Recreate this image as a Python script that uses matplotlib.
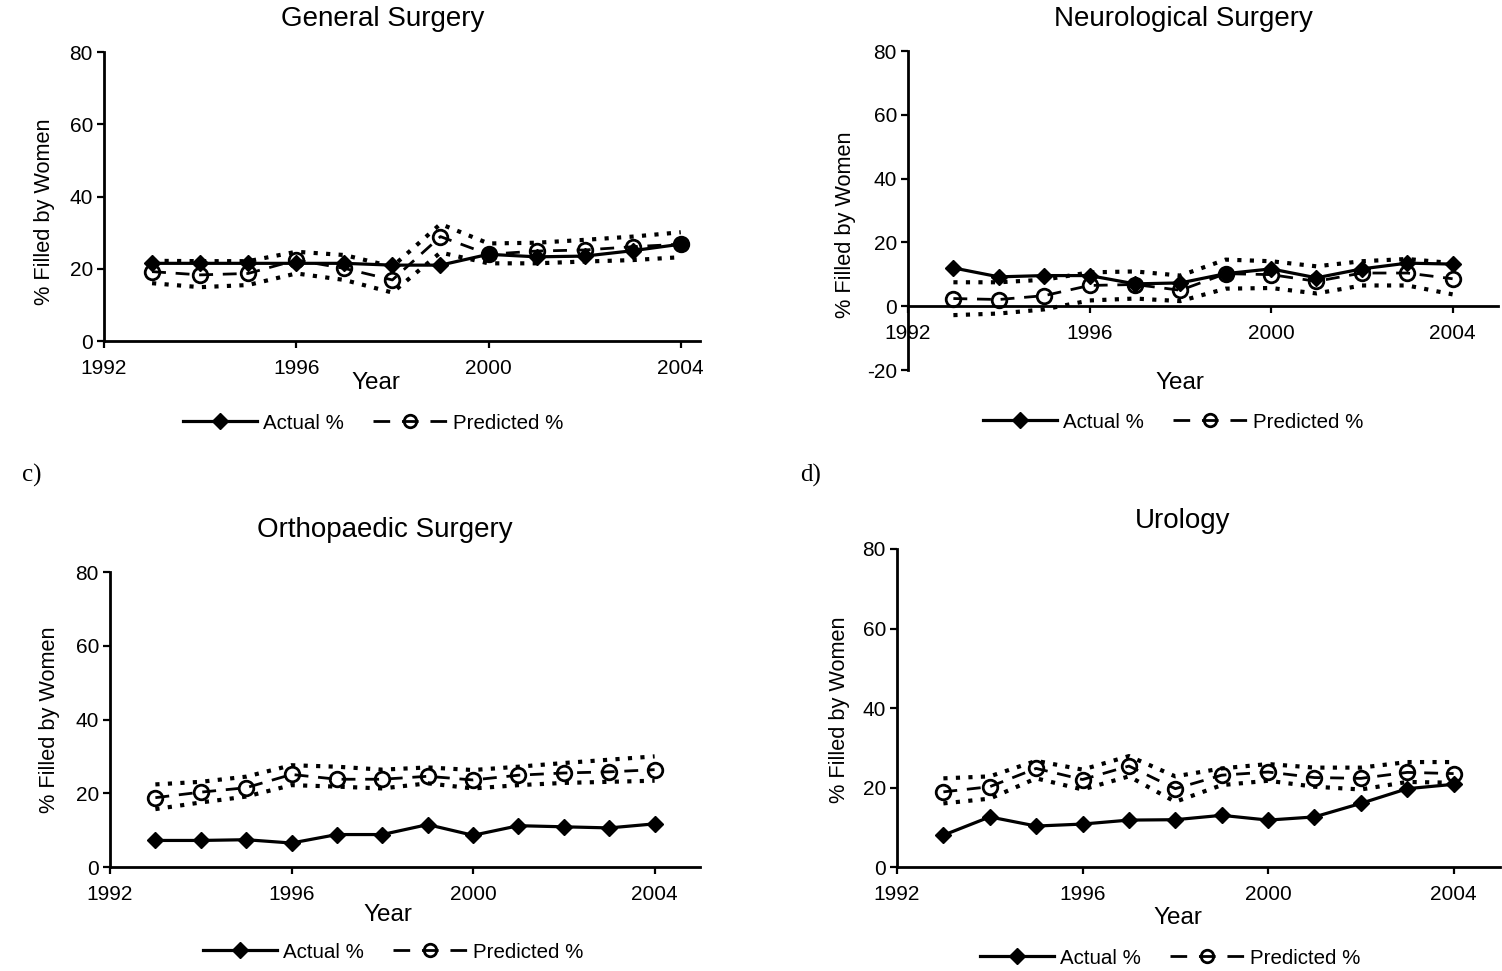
#!/usr/bin/env python3
"""
Four-panel chart: % of residency positions filled by women,
actual vs predicted with prediction bounds, 1993-2004.
"""

import matplotlib
matplotlib.use("Agg")
import matplotlib.pyplot as plt
from matplotlib.lines import Line2D

plt.rcParams["font.family"] = ["Liberation Sans", "DejaVu Sans"]
plt.rcParams["axes.unicode_minus"] = False

years = [1993, 1994, 1995, 1996, 1997, 1998, 1999, 2000, 2001, 2002, 2003, 2004]

# General Surgery
gen_actual = [21.5, 21.5, 21.5, 21.5, 21.5, 21.0, 21.0, 24.0, 23.3, 23.5, 25.0, 26.8]
gen_pred = [19.2, 18.3, 18.7, 22.4, 20.1, 16.9, 28.9, 24.0, 24.9, 25.2, 26.1, 26.8]
gen_upper = [22.2, 22.1, 22.1, 24.7, 23.8, 20.6, 32.4, 27.0, 27.2, 28.0, 28.9, 30.1]
gen_lower = [16.0, 14.9, 15.5, 18.7, 16.9, 13.4, 24.5, 21.5, 21.5, 22.0, 22.4, 23.2]

# Neurological Surgery
neuro_actual = [12.0, 9.2, 9.6, 9.6, 7.0, 7.3, 10.2, 11.7, 8.9, 11.7, 13.5, 13.2]
neuro_pred = [2.4, 2.1, 3.3, 6.5, 6.8, 5.0, 10.2, 9.9, 7.8, 10.4, 10.4, 8.6]
neuro_upper = [7.5, 7.5, 8.3, 10.6, 10.9, 9.6, 14.6, 14.1, 12.5, 14.1, 14.8, 13.5]
neuro_lower = [-2.8, -2.3, -1.0, 1.8, 2.4, 1.6, 5.5, 5.7, 4.0, 6.5, 6.5, 3.7]

# Orthopaedic Surgery
ortho_actual = [7.2, 7.2, 7.4, 6.5, 8.8, 8.8, 11.5, 8.6, 11.2, 10.9, 10.6, 11.7]
ortho_pred = [18.8, 20.3, 21.5, 25.1, 23.8, 23.8, 24.6, 23.6, 24.9, 25.5, 25.8, 26.4]
ortho_upper = [22.4, 23.1, 24.5, 27.6, 27.2, 26.4, 27.0, 26.3, 27.2, 28.2, 29.1, 30.0]
ortho_lower = [15.7, 17.5, 19.1, 22.2, 21.8, 21.3, 22.7, 21.3, 22.2, 22.8, 23.1, 23.4]

# Urology
uro_actual = [8.0, 12.6, 10.3, 10.8, 11.8, 11.9, 13.0, 11.8, 12.6, 16.0, 19.7, 20.8]
uro_pred = [18.9, 20.2, 24.8, 22.0, 25.4, 19.7, 23.1, 23.9, 22.5, 22.3, 23.8, 23.5]
uro_upper = [22.3, 22.8, 26.7, 24.5, 27.9, 22.8, 24.8, 25.9, 25.0, 25.0, 26.4, 26.4]
uro_lower = [16.0, 17.2, 22.3, 19.5, 22.8, 16.4, 20.6, 21.7, 20.2, 19.5, 21.4, 21.2]

x_ticks = [1992, 1996, 2000, 2004]

W, H = 1502, 971


def fx(px):
    return px / W


def fy(py):
    return 1 - py / H


def draw_panel(fig, rect_px, xmax, ylim, yticks, actual, pred, upper, lower,
               title, title_xy, year_xy, ylabel_xy, legend_xy, zero_axis=False):
    left, top, right, bottom = rect_px
    ax = fig.add_axes([fx(left), fy(bottom), (right - left) / W, (bottom - top) / H])

    ax.plot(years, upper, color="black", lw=3.0, dashes=(1.0, 2.0), dash_capstyle="butt")
    ax.plot(years, lower, color="black", lw=3.0, dashes=(1.0, 2.0), dash_capstyle="butt")
    ax.plot(years, pred, color="black", lw=2.0, dashes=(5, 3.5), marker="o",
            markersize=10.5, markerfacecolor="none", markeredgewidth=2.0)
    ax.plot(years, actual, color="black", lw=2.3, marker="D", markersize=8.5)

    ax.set_xlim(1992, xmax)
    ax.set_ylim(*ylim)
    ax.set_xticks(x_ticks)
    ax.set_yticks(yticks)
    ax.spines["top"].set_visible(False)
    ax.spines["right"].set_visible(False)
    for s in ("left", "bottom"):
        ax.spines[s].set_linewidth(2.0)
    if zero_axis:
        ax.spines["bottom"].set_position(("data", 0))
    ax.tick_params(axis="both", direction="out", length=5, width=1.6,
                   labelsize=15, pad=3)
    ax.tick_params(axis="x", pad=8)
    ax.patch.set_alpha(0)

    fig.text(fx(title_xy[0]), fy(title_xy[1]), title, fontsize=20,
             ha="center", va="center")
    fig.text(fx(year_xy[0]), fy(year_xy[1]), "Year", fontsize=17.5,
             ha="center", va="center")
    fig.text(fx(ylabel_xy[0]), fy(ylabel_xy[1]), "% Filled by Women", fontsize=15.7,
             ha="center", va="center", rotation=90)

    handles = [
        Line2D([], [], color="black", lw=2.3, marker="D", markersize=8.5),
        Line2D([], [], color="black", lw=2.0, dashes=(6, 4.25), marker="o",
               markersize=9, markerfacecolor="none", markeredgewidth=2.0),
    ]
    fig.legend(handles, ["Actual %", "Predicted %"], loc="center",
               bbox_to_anchor=(fx(legend_xy[0]), fy(legend_xy[1])), ncol=2,
               frameon=False, fontsize=14.8, handlelength=3.6, handletextpad=0.3,
               columnspacing=1.4)
    return ax


fig = plt.figure(figsize=(W / 100, H / 100), dpi=100)

draw_panel(fig, (104, 52, 700, 341), 2004.4, (0, 80), [0, 20, 40, 60, 80],
           gen_actual, gen_pred, gen_upper, gen_lower,
           "General Surgery", (383, 19), (376, 383), (45, 212), (373, 423))

draw_panel(fig, (908, 51, 1498, 370), 2005, (-20, 80), [-20, 0, 20, 40, 60, 80],
           neuro_actual, neuro_pred, neuro_upper, neuro_lower,
           "Neurological Surgery", (1183, 19), (1180, 383), (845, 225), (1173, 422),
           zero_axis=True)

draw_panel(fig, (110, 572, 700, 867), 2005, (0, 80), [0, 20, 40, 60, 80],
           ortho_actual, ortho_pred, ortho_upper, ortho_lower,
           "Orthopaedic Surgery", (385, 530), (388, 915), (50, 720), (393, 952))

draw_panel(fig, (897, 549, 1500, 867), 2005, (0, 80), [0, 20, 40, 60, 80],
           uro_actual, uro_pred, uro_upper, uro_lower,
           "Urology", (1183, 521), (1178, 918), (840, 710), (1170, 958))

fig.text(fx(22), fy(475), "c)", fontsize=18, ha="left", va="center",
         family=["Liberation Serif", "DejaVu Serif"])
fig.text(fx(800), fy(475), "d)", fontsize=18, ha="left", va="center",
         family=["Liberation Serif", "DejaVu Serif"])

fig.savefig("out.png", dpi=100)
